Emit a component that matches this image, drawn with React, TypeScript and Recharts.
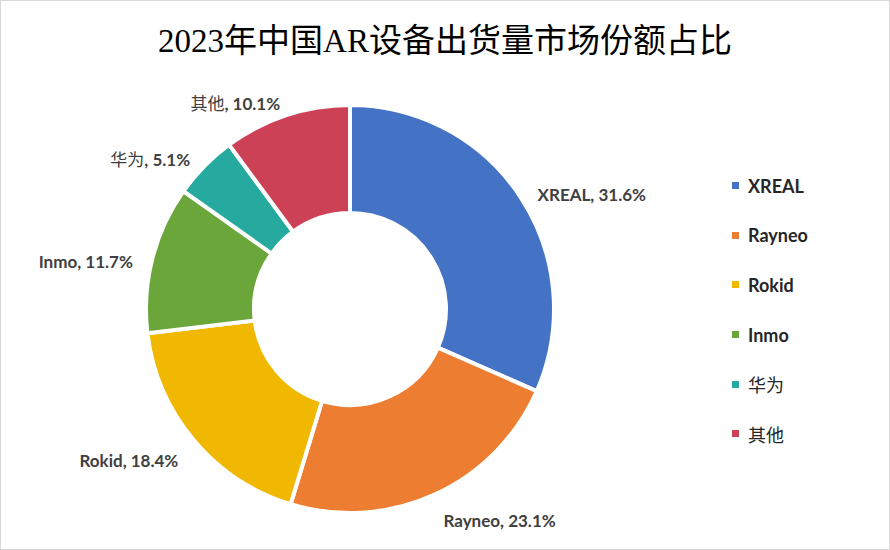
import { Cell, Legend, Pie, PieChart } from "recharts";

const brands = ["XREAL", "Rayneo", "Rokid", "Inmo", "华为", "其他"];
const shares = [31.6, 23.1, 18.4, 11.7, 5.1, 10.1];
const colors = ["#4472c4", "#ed7d31", "#f0b800", "#6aa63a", "#26a99e", "#cc4155"];

const data = brands.map((name, i) => ({ name, value: shares[i] }));

const RAD = Math.PI / 180;
const labelFont = "Lato, 'Noto Sans CJK SC', sans-serif";
const isCjk = (s: string) => /[\u4e00-\u9fff]/.test(s);

function renderLabel(props: any) {
  const { cx, cy, midAngle, outerRadius, name, value } = props;
  const r = outerRadius + 20;
  const cos = Math.cos(-midAngle * RAD);
  const sin = Math.sin(-midAngle * RAD);
  const x = cx + r * cos;
  const y = cy + r * sin + 7;
  return (
    <text
      x={x}
      y={y}
      textAnchor={cos >= 0 ? "start" : "end"}
      dominantBaseline="central"
      fill="#404040"
      fontFamily={labelFont}
      fontSize={17}
    >
      <tspan fontWeight={isCjk(name) ? 400 : 700}>{name}</tspan>
      <tspan fontWeight={700}>{`, ${value.toFixed(1)}%`}</tspan>
    </text>
  );
}

function LegendList() {
  return (
    <ul style={{ listStyle: "none", margin: 0, padding: 0 }}>
      {brands.map((b, i) => (
        <li
          key={b}
          style={{
            display: "flex",
            alignItems: "center",
            height: 49.6,
            fontFamily: labelFont,
            fontSize: 18,
            fontWeight: isCjk(b) ? 400 : 700,
            color: "#262626",
          }}
        >
          <span
            style={{
              display: "inline-block",
              width: 7,
              height: 7,
              background: colors[i],
              marginRight: 9,
            }}
          />
          {b}
        </li>
      ))}
    </ul>
  );
}

export default function App() {
  return (
    <div
      style={{
        position: "absolute",
        left: 0,
        top: 0,
        width: 890,
        height: 550,
        boxSizing: "border-box",
        border: "1px solid #d9d9d9",
        background: "#fff",
      }}
    >
      <div
        style={{
          position: "absolute",
          top: 18,
          left: 0,
          width: 888,
          textAlign: "center",
          fontFamily: "'Liberation Serif', 'Noto Sans CJK SC', serif",
          fontSize: 33,
          lineHeight: "44px",
          color: "#000",
        }}
      >
        2023年中国AR设备出货量市场份额占比
      </div>
      <PieChart width={888} height={548} style={{ position: "absolute", left: 0, top: 0 }}>
        <Pie
          data={data}
          dataKey="value"
          nameKey="name"
          cx={344}
          cy={303}
          innerRadius={96}
          outerRadius={204}
          startAngle={90}
          endAngle={-270}
          stroke="#fff"
          strokeWidth={4}
          label={renderLabel}
          labelLine={false}
          isAnimationActive={false}
        >
          {data.map((d, i) => (
            <Cell key={d.name} fill={colors[i]} />
          ))}
        </Pie>
        <Legend
          layout="vertical"
          verticalAlign="top"
          align="right"
          wrapperStyle={{ left: 731, top: 160, width: 150 }}
          content={() => <LegendList />}
        />
      </PieChart>
    </div>
  );
}
